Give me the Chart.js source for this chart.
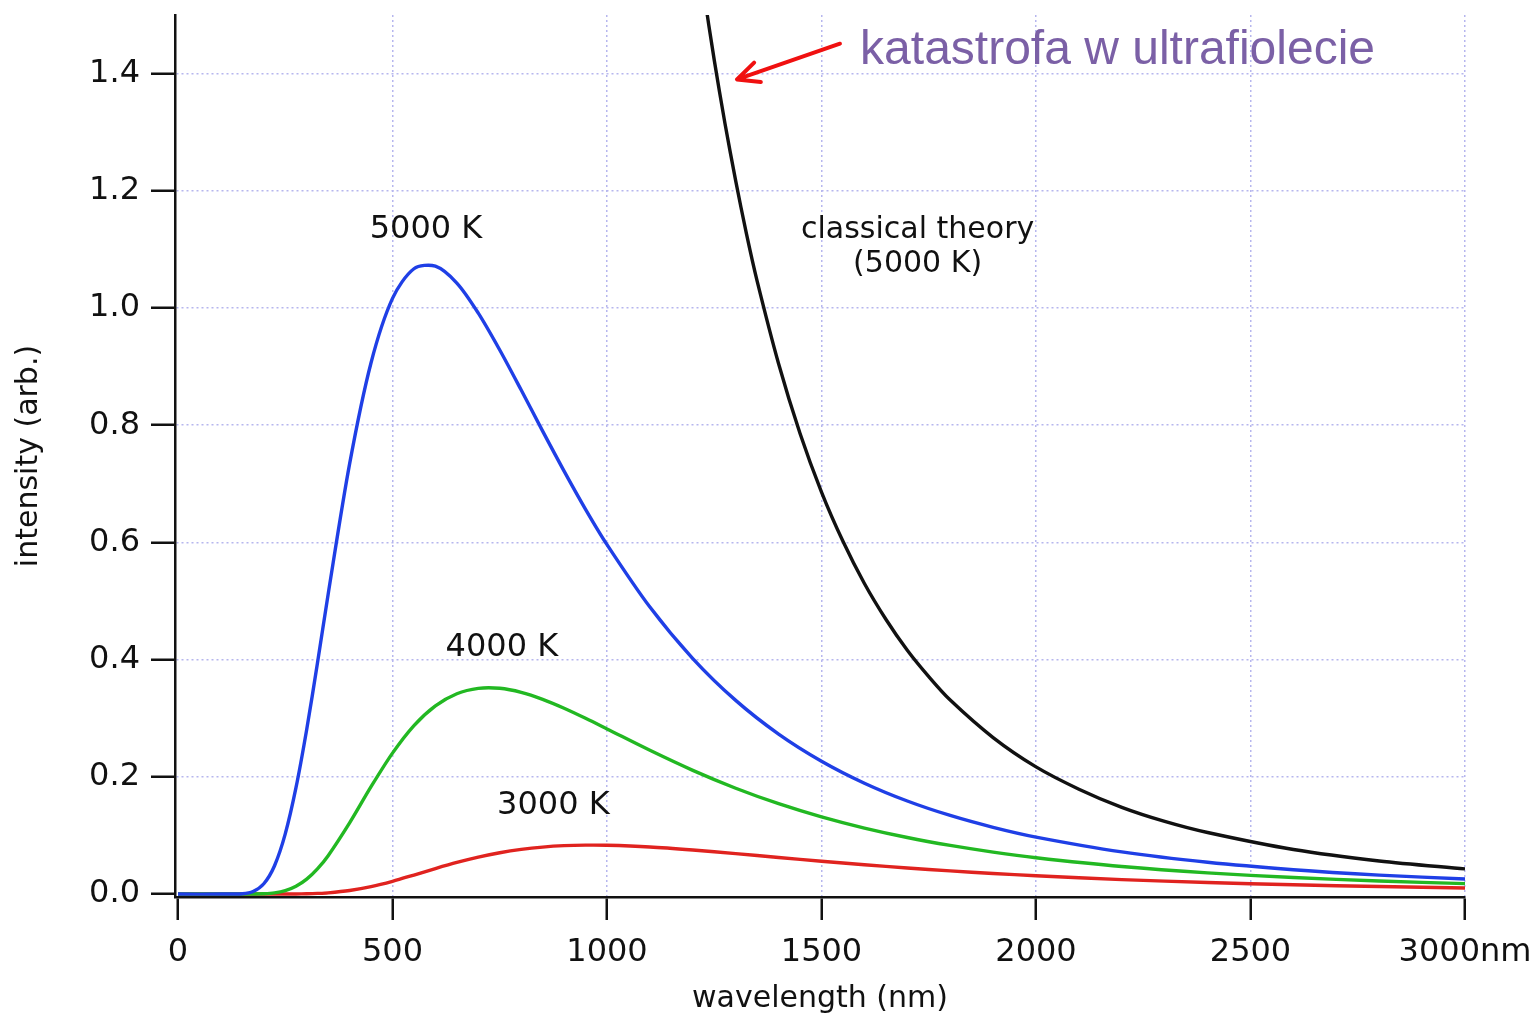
<!DOCTYPE html>
<html>
<head>
<meta charset="utf-8">
<script src="https://cdn.jsdelivr.net/npm/chart.js@4.4.1/dist/chart.umd.min.js"></script>
<style>
  html, body { margin: 0; padding: 0; background: #ffffff; }
  #wrap { width: 1535px; height: 1018px; position: relative; }
  canvas { display: block; }
</style>
</head>
<body>
<div id="wrap"><canvas id="c" width="1535" height="1018"></canvas></div>
<script>
// Black-body spectra (arbitrary intensity units) against wavelength in nm
const wavelengths = [0, 100, 150, 175, 200, 225, 250, 275, 300, 325, 350, 400, 450, 500,
  550, 600, 650, 700, 750, 800, 850, 900, 950,
  1000, 1100, 1200, 1300, 1400, 1500, 1600, 1700,
  1800, 1900, 2000, 2200, 2400, 2600, 2800, 3000];
const planck5000 = [0, 0, 0.0006, 0.0044, 0.0176, 0.0484, 0.1027, 0.1815, 0.2809, 0.3939, 0.5117, 0.734, 0.9067, 1.0165,
  1.067, 1.0714, 1.0426, 0.9913, 0.9284, 0.860, 0.790, 0.7218, 0.6566,
  0.5963, 0.4897, 0.4019, 0.3305, 0.273, 0.2267, 0.1892, 0.1588,
  0.1341, 0.1139, 0.0972, 0.0719, 0.0542, 0.0416, 0.0324, 0.0256];
const planck4000 = [0, 0, 0, 0.0001, 0.0005, 0.0020, 0.0058, 0.0133, 0.0255, 0.0430, 0.0655, 0.1215, 0.1832, 0.2405,
  0.2875, 0.3212, 0.3419, 0.351, 0.3511, 0.3442, 0.3323, 0.3171, 0.2999,
  0.2818, 0.2453, 0.2111, 0.1806, 0.1542, 0.1317, 0.1126, 0.0965,
  0.0830, 0.0716, 0.0620, 0.0470, 0.0361, 0.0282, 0.0222, 0.0178];
const planck3000 = [0, 0, 0, 0, 0, 0, 0.00005, 0.0002, 0.0005, 0.0011, 0.0021, 0.0061, 0.0127, 0.0218,
  0.0325, 0.0435, 0.0539, 0.0630, 0.0705, 0.0762, 0.0802, 0.0826, 0.0835,
  0.0833, 0.0804, 0.0752, 0.0690, 0.0625, 0.0561, 0.0501, 0.0446,
  0.0396, 0.0352, 0.0313, 0.0247, 0.0197, 0.0158, 0.0128, 0.0104];

// Rayleigh-Jeans (classical) prediction for 5000 K
const classicalWavelengths = [1200, 1225, 1250, 1275, 1300, 1325, 1350, 1400, 1450, 1500,
  1550, 1600, 1650, 1700, 1750, 1800, 1900, 2000, 2100, 2200, 2300, 2400, 2600, 2800, 3000];
const classical5000 = [1.676, 1.543, 1.423, 1.315, 1.217, 1.127, 1.046, 0.905, 0.786, 0.686,
  0.602, 0.530, 0.469, 0.416, 0.371, 0.331, 0.267, 0.217, 0.179, 0.148, 0.124, 0.105, 0.076, 0.0565, 0.0429];

const xTicks = [0, 500, 1000, 1500, 2000, 2500, 3000];
const yTicks = [0, 0.2, 0.4, 0.6, 0.8, 1.0, 1.2, 1.4];

const toPoints = (xs, ys) => xs.map((x, i) => ({ x: x, y: ys[i] }));

const GRID = '#b6b6ee';
const INK = '#111111';
const SANS = '"DejaVu Sans", "Noto Sans", sans-serif';

const lineStyle = (color) => ({
  borderColor: color,
  backgroundColor: color,
  borderWidth: 3.4,
  pointRadius: 0,
  pointHoverRadius: 0,
  fill: false,
  tension: 0.3
});

// In-plot text labels and the arrow
const annotate = {
  id: 'annotate',
  afterDatasetsDraw(chart) {
    const ctx = chart.ctx;
    const xs = chart.scales.x, ys = chart.scales.y;
    const px = v => xs.getPixelForValue(v);
    const py = v => ys.getPixelForValue(v);
    ctx.save();
    ctx.fillStyle = INK;
    ctx.textAlign = 'center';
    ctx.textBaseline = 'alphabetic';
    ctx.font = '32px ' + SANS;
    ctx.fillText('5000 K', px(578), py(1.120));
    ctx.fillText('4000 K', px(755), py(0.406));
    ctx.fillText('3000 K', px(875), py(0.136));
    ctx.font = '30px ' + SANS;
    ctx.fillText('classical theory', px(1724), py(1.120));
    ctx.fillText('(5000 K)', px(1724), py(1.061));

    // ultraviolet catastrophe note
    ctx.textAlign = 'left';
    ctx.fillStyle = '#7b60a6';
    ctx.font = '48px "Liberation Sans", Arial, sans-serif';
    ctx.fillText('katastrofa w ultrafiolecie', px(1590), py(1.417));

    // red arrow pointing at the classical curve
    const x0 = px(1543), y0 = py(1.451);
    const x1 = px(1303), y1 = py(1.390);
    ctx.strokeStyle = '#f01010';
    ctx.lineWidth = 4;
    ctx.lineCap = 'round';
    ctx.lineJoin = 'round';
    ctx.beginPath();
    ctx.moveTo(x0, y0);
    ctx.lineTo(x1, y1);
    const ang = Math.atan2(y0 - y1, x0 - x1);
    const len = 24, spread = 0.44;
    ctx.moveTo(x1 + len * Math.cos(ang - spread), y1 + len * Math.sin(ang - spread));
    ctx.lineTo(x1, y1);
    ctx.lineTo(x1 + len * Math.cos(ang + spread), y1 + len * Math.sin(ang + spread));
    ctx.stroke();
    ctx.restore();
  }
};

new Chart(document.getElementById('c'), {
  type: 'line',
  data: {
    datasets: [
      Object.assign({ label: 'classical theory (5000 K)', data: toPoints(classicalWavelengths, classical5000) }, lineStyle('#111111')),
      Object.assign({ label: '5000 K', data: toPoints(wavelengths, planck5000) }, lineStyle('#1f3fe6')),
      Object.assign({ label: '4000 K', data: toPoints(wavelengths, planck4000) }, lineStyle('#22b822')),
      Object.assign({ label: '3000 K', data: toPoints(wavelengths, planck3000) }, lineStyle('#e0231f'))
    ]
  },
  options: {
    responsive: false,
    maintainAspectRatio: false,
    animation: false,
    devicePixelRatio: 1,
    layout: { padding: { top: 15, right: 70, left: 0, bottom: 0 } },
    plugins: {
      legend: { display: false },
      tooltip: { enabled: false },
      title: { display: false }
    },
    scales: {
      x: {
        type: 'linear',
        min: -7,
        max: 3000,
        afterBuildTicks: s => { s.ticks = xTicks.map(v => ({ value: v })); },
        afterFit: s => { s.height = 121; s.paddingLeft = 0; s.paddingRight = 0; },
        grid: {
          color: c => (c.tick && c.tick.value === 0) ? 'rgba(0,0,0,0)' : GRID,
          lineWidth: 1.5,
          tickColor: INK,
          tickWidth: 2.5,
          tickLength: 23
        },
        border: { display: true, color: INK, width: 2.5, dash: [2, 3] },
        ticks: {
          color: INK,
          font: { family: SANS, size: 32 },
          padding: 13,
          maxRotation: 0,
          autoSkip: false,
          callback: v => v === 3000 ? '3000nm' : String(v)
        },
        title: {
          display: true,
          text: 'wavelength (nm)',
          color: INK,
          font: { family: SANS, size: 30, lineHeight: 1 },
          padding: { top: 0, bottom: 4 }
        }
      },
      y: {
        type: 'linear',
        min: -0.005,
        max: 1.5,
        afterBuildTicks: s => { s.ticks = yTicks.map(v => ({ value: v })); },
        afterFit: s => { s.width = 175; s.paddingTop = 0; s.paddingBottom = 0; },
        grid: {
          color: c => (c.tick && c.tick.value === 0) ? 'rgba(0,0,0,0)' : GRID,
          lineWidth: 1.5,
          tickColor: INK,
          tickWidth: 2.5,
          tickLength: 24
        },
        border: { display: true, color: INK, width: 2.5, dash: [2, 3] },
        ticks: {
          color: INK,
          font: { family: SANS, size: 32 },
          padding: 11,
          callback: v => Number(v).toFixed(1)
        },
        title: {
          display: true,
          text: 'intensity (arb.)',
          color: INK,
          font: { family: SANS, size: 30, lineHeight: 1 },
          padding: { top: 14, bottom: 0 }
        }
      }
    }
  },
  plugins: [annotate]
});
</script>
</body>
</html>
